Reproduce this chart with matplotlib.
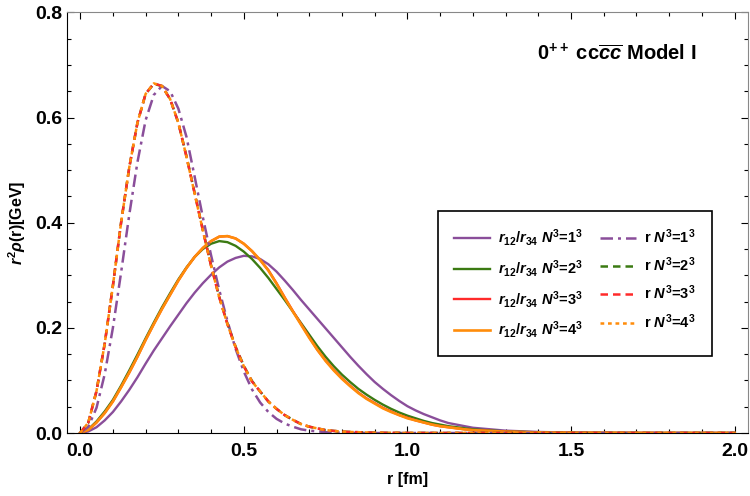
import matplotlib
matplotlib.use('Agg')
import matplotlib.pyplot as plt
from matplotlib.ticker import MultipleLocator

plt.rcParams['font.family'] = ['Liberation Sans', 'DejaVu Sans']
plt.rcParams['font.weight'] = 'bold'
plt.rcParams['axes.labelweight'] = 'bold'
plt.rcParams['mathtext.fontset'] = 'custom'
plt.rcParams['mathtext.rm'] = 'Liberation Sans:bold'
plt.rcParams['mathtext.bf'] = 'Liberation Sans:bold'
plt.rcParams['mathtext.it'] = 'Liberation Sans:bold:italic'

# r12/r34 distributions (solid lines)
r_solid = [0, .025, .05, .075, .1, .125, .15, .175, .2, .225, .25, .275, .3, .325, .35, .375,
           .4, .425, .45, .475, .5, .525, .55, .575, .6, .625, .65, .675, .7, .725, .75, .775,
           .8, .825, .85, .875, .9, .925, .95, .975, 1.0, 1.025, 1.05, 1.075, 1.1, 1.125, 1.15,
           1.175, 1.2, 1.3, 1.4, 1.5, 1.6, 1.8, 2.0]
solid_n1 = [0, .003, .011, .024, .04, .06, .082, .106, .132, .157, .18, .203, .225, .247, .267,
            .285, .301, .315, .326, .333, .337, .336, .331, .321, .307, .29, .272, .253, .235,
            .217, .199, .181, .163, .145, .128, .112, .097, .084, .072, .061, .051, .043, .036,
            .03, .024, .019, .016, .013, .01, .0045, .002, .0008, .0003, .00005, 0]
solid_n2 = [0, .007, .022, .041, .063, .09, .119, .149, .18, .21, .239, .266, .292, .315, .335,
            .35, .36, .365, .363, .356, .345, .331, .314, .295, .274, .253, .231, .209, .187,
            .165, .145, .127, .111, .097, .084, .073, .063, .054, .046, .039, .033, .028, .023,
            .019, .016, .013, .011, .009, .007, .003, .0013, .0005, .0002, 0, 0]
solid_n3 = [0, .006, .02, .038, .06, .087, .115, .145, .177, .207, .236, .263, .29, .314, .335,
            .352, .365, .3735, .3745, .37, .36, .346, .329, .31, .285, .258, .232, .207, .182,
            .158, .138, .12, .104, .09, .077, .066, .057, .048, .041, .034, .029, .024, .02,
            .016, .013, .011, .009, .007, .0055, .0025, .001, .0004, .0002, 0, 0]
solid_n4 = [0, .006, .02, .038, .06, .087, .115, .145, .177, .207, .236, .263, .29, .314, .335,
            .352, .365, .3735, .3745, .37, .36, .346, .329, .309, .284, .257, .231, .206, .181,
            .158, .137, .119, .103, .089, .076, .065, .056, .047, .04, .034, .028, .024, .02,
            .016, .013, .011, .009, .007, .0055, .0025, .001, .0004, .0002, 0, 0]

# r distributions (dashed lines)
r_dash = [0, .025, .05, .075, .1, .125, .15, .175, .2, .225, .25, .275, .3, .325, .35, .375,
          .4, .425, .45, .475, .5, .525, .55, .575, .6, .625, .65, .675, .7, .75, .8, .9, 1.0,
          1.2, 1.5, 2.0]
dash_n1 = [0, .012, .048, .112, .2, .305, .415, .515, .595, .643, .66, .65, .617, .563, .487,
           .41, .338, .272, .213, .16, .117, .083, .058, .04, .027, .018, .012, .007, .0045,
           .0017, .0006, 0, 0, 0, 0, 0]
dash_n2 = [0, .02, .08, .17, .28, .40, .505, .59, .645, .664, .66, .635, .59, .526, .456, .386,
           .319, .259, .208, .164, .128, .099, .079, .06, .046, .034, .025, .017, .012, .0055,
           .0025, .0005, .0001, 0, 0, 0]
dash_n3 = [0, .02, .08, .17, .28, .40, .505, .59, .645, .665, .66, .635, .59, .525, .455, .385,
           .318, .258, .207, .163, .127, .098, .079, .06, .046, .034, .025, .017, .012, .0055,
           .0025, .0005, .0001, 0, 0, 0]
dash_n4 = [0, .02, .08, .17, .28, .40, .505, .59, .645, .665, .66, .635, .59, .525, .455, .385,
           .318, .258, .207, .163, .127, .098, .079, .06, .046, .034, .025, .017, .012, .0055,
           .0025, .0005, .0001, 0, 0, 0]

purple, green, red, orange = '#8a4e9a', '#3b7a12', '#ff2a2a', '#ff8c0a'
lbl_s = r'$r_{12}/r_{34}\ N^3$=%d$^3$'
lbl_d = r'r $N^3$=%d$^3$'

fig = plt.figure(figsize=(7.5, 4.96), dpi=100)
ax = fig.add_axes([0.089, 0.127, 0.908, 0.848])

h1, = ax.plot(r_solid, solid_n1, '-', color=purple, lw=1.7)
h2, = ax.plot(r_solid, solid_n2, '-', color=green, lw=1.7)
h3, = ax.plot(r_solid, solid_n3, '-', color=red, lw=1.7)
h4, = ax.plot(r_solid, solid_n4, '-', color=orange, lw=1.9)
d1, = ax.plot(r_dash, dash_n1, color=purple, lw=1.8, dashes=(5, 2, 1.2, 2))
d2, = ax.plot(r_dash, dash_n2, color=green, lw=1.8, dashes=(3, 2))
d3, = ax.plot(r_dash, dash_n3, color=red, lw=1.8, dashes=(3, 2))
d4, = ax.plot(r_dash, dash_n4, color=orange, lw=1.8, dashes=(1.5, 1.5))

ax.set_xlim(-0.041, 2.04)
ax.set_ylim(0, 0.8)
ax.xaxis.set_major_locator(MultipleLocator(0.5))
ax.xaxis.set_minor_locator(MultipleLocator(0.1))
ax.yaxis.set_major_locator(MultipleLocator(0.2))
ax.yaxis.set_minor_locator(MultipleLocator(0.05))
ax.xaxis.set_major_formatter(plt.FuncFormatter(lambda v, p: f'{v:.1f}'))
ax.yaxis.set_major_formatter(plt.FuncFormatter(lambda v, p: f'{v:.1f}'))
ax.tick_params(which='both', direction='in', top=True, right=True, labelsize=14, width=0.8)
ax.tick_params(which='major', length=5)
ax.tick_params(which='minor', length=3)
ax.tick_params(axis='x', pad=7)
for s in ['top', 'right']:
    ax.spines[s].set_color('#888888')

ax.set_xlabel('r [fm]', fontsize=11.5, labelpad=9)
ax.set_ylabel(r'$r^2\rho$(r)[GeV]', fontsize=11.5, labelpad=5)

ax.text(0.925, 0.903, r'0$^{++}$ cc$\overline{cc}$ Model I', transform=ax.transAxes,
        ha='right', va='center', fontsize=14.5)

leg = ax.legend([h1, h2, h3, h4, d1, d2, d3, d4],
                [lbl_s % i for i in range(1, 5)] + [lbl_d % i for i in range(1, 5)],
                ncol=2, loc='upper left', bbox_to_anchor=(0.545, 0.527), borderaxespad=0,
                fontsize=10.5, frameon=True, fancybox=False, edgecolor='black', framealpha=1,
                handlelength=2.5, handletextpad=0.55, columnspacing=1.1, labelspacing=0.66,
                borderpad=1.1)
leg.get_frame().set_linewidth(1.2)

fig.savefig('out.png', dpi=100)
